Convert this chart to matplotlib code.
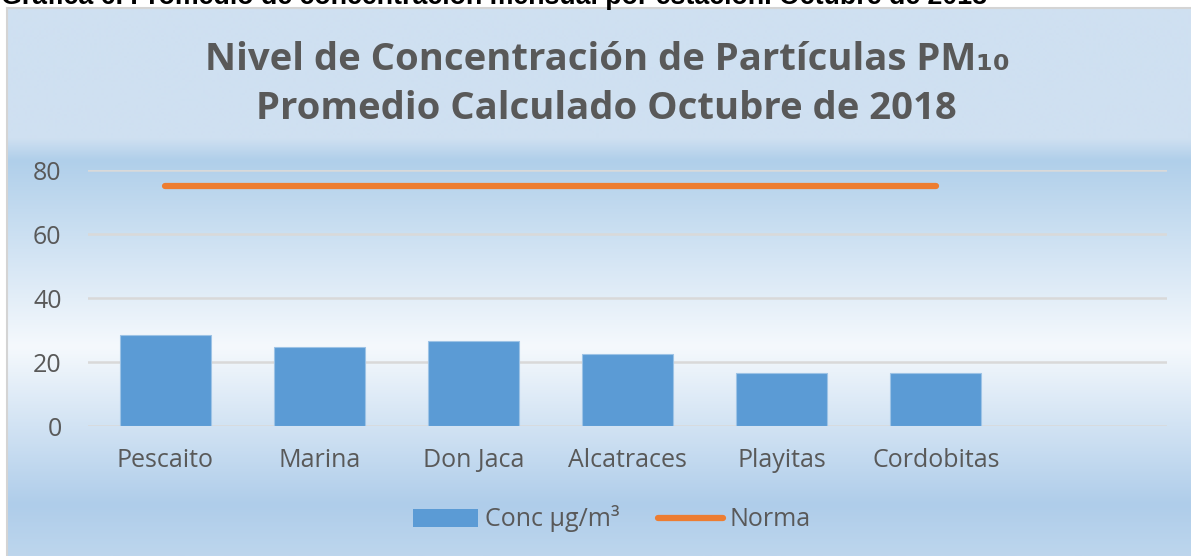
import numpy as np
import matplotlib
matplotlib.use("Agg")
import matplotlib.pyplot as plt
from matplotlib.colors import to_rgb
from matplotlib.patches import Patch
from matplotlib.lines import Line2D

# data
estaciones = ["Pescaito", "Marina", "Don Jaca", "Alcatraces", "Playitas", "Cordobitas", ""]
conc = [28.4, 24.8, 26.6, 22.4, 16.5, 16.7]
norma = [75, 75, 75, 75, 75, 75]
yticks = [0, 20, 40, 60, 80]

W, H = 1191, 556
fig = plt.figure(figsize=(W / 100, H / 100), dpi=100, facecolor="white")

def fx(px):
    return px / W

def fy(py):
    return 1 - py / H

# chart area background (flat on top, gradient behind plot)
stops_y = [8, 138, 160, 347, 505, 556]
stops_c = ["#cfe0f1", "#cfe0f1", "#b0cfea", "#f5f9fd", "#afcdea", "#bdd6ed"]
rows = np.arange(8, 557)
rgb = np.array([to_rgb(c) for c in stops_c])
grad = np.stack([np.interp(rows, stops_y, rgb[:, k]) for k in range(3)], axis=1)
grad = np.repeat(grad[:, None, :], 2, axis=1)
bg = fig.add_axes([fx(7), 0, 1 - fx(7), fy(8)])
bg.imshow(grad, aspect="auto", extent=[0, 1, 0, 1], interpolation="bilinear")
bg.set_axis_off()
fig.add_artist(Line2D([fx(7), fx(7)], [0, fy(8)], color="#d4d4d4", lw=1.5))
fig.add_artist(Line2D([fx(7), 1], [fy(8), fy(8)], color="#d4d4d4", lw=1.5))

# caption cut off at the top of the page
fig.text(fx(1), fy(4), "Gráfica 6. Promedio de concentración mensual por estación. Octubre de 2018",
         family="Liberation Sans", weight="bold", fontsize=19.3, color="black",
         ha="left", va="baseline")

fam = ["Open Sans", "DejaVu Sans"]
gray = "#595959"

fig.text(fx(607), fy(60), "Nivel de Concentración de Partículas PM₁₀", family=fam,
         weight="bold", fontsize=27.5, color=gray, ha="center", va="center")
fig.text(fx(606), fy(109), "Promedio Calculado Octubre de 2018", family=fam,
         weight="bold", fontsize=27.5, color=gray, ha="center", va="center")

ax = fig.add_axes([fx(88), fy(426), fx(1167 - 88), (426 - 170) / H])
ax.patch.set_alpha(0)
x = np.arange(len(estaciones))
ax.bar(x[:len(conc)], conc, width=0.59, color="#5b9bd5", edgecolor="#9dc3e6",
       linewidth=0.8, zorder=3, label="Conc µg/m³")
ax.plot(x[:len(norma)], norma, color="#ed7d31", lw=4.5, solid_capstyle="round",
        zorder=4, label="Norma")

ax.set_xlim(-0.5, len(estaciones) - 0.5)
ax.set_ylim(0, 80)
ax.set_yticks(yticks)
ax.set_xticks(x)
ax.set_xticklabels(estaciones)
ax.grid(axis="y", color="#d9d9d9", lw=1.8, zorder=0)
for s in ax.spines.values():
    s.set_visible(False)
ax.tick_params(length=0, labelsize=18, labelcolor=gray)
ax.tick_params(axis="y", pad=19)
ax.tick_params(axis="x", pad=16)
for t in ax.get_xticklabels() + ax.get_yticklabels():
    t.set_family(fam)

handles = [Patch(facecolor="#5b9bd5", edgecolor="none", label="Conc µg/m³"),
           Line2D([], [], color="#ed7d31", lw=4.5, solid_capstyle="round", label="Norma")]
fig.legend(handles=handles, loc="center", bbox_to_anchor=(fx(612), fy(519)),
           ncol=2, frameon=False, prop={"family": fam, "size": 18},
           labelcolor=gray, handlelength=2.6, handleheight=0.7,
           handletextpad=0.3, columnspacing=1.5)

fig.savefig("out.png", dpi=100)
